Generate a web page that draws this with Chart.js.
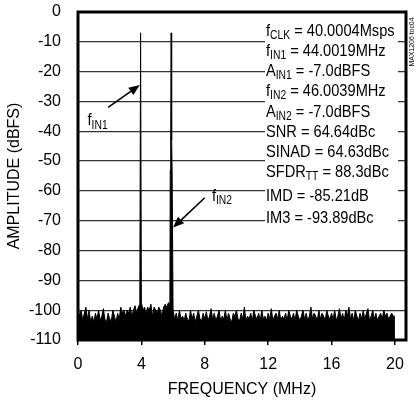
<!DOCTYPE html>
<html>
<head>
<meta charset="utf-8">
<script src="https://cdn.jsdelivr.net/npm/chart.js@4.4.1/dist/chart.umd.min.js"></script>
<style>
  html, body { margin: 0; padding: 0; background: #fff; }
  #wrap { width: 418px; height: 403px; position: relative; }
</style>
</head>
<body>
<div id="wrap"><canvas id="fft"></canvas></div>
<script>
  const xTickValues = [0, 4, 8, 12, 16, 20];
  const yTickValues = [0, -10, -20, -30, -40, -50, -60, -70, -80, -90, -100, -110];

  // noise floor, one value every 0.1 MHz from 0 to 20 MHz (dBFS)
  const noiseStepMHz = 0.1;
  const noiseDbfs = [
    -99, -102, -100, -103.5, -101, -99, -103, -100, -104, -102,
    -104, -101, -103, -100, -103.5, -102, -99.5, -103, -104, -101,
    -103, -103.5, -100, -102, -104, -101, -103, -99, -101, -100,
    -102, -100, -101, -99, -102, -100, -98.5, -101, -99, -98,
    -97.5, -100, -99, -101, -99, -100, -98, -102, -99, -100,
    -101, -99, -100, -102, -99, -98, -99, -97.5, -98, -99,
    -100, -103, -101, -103.5, -100, -103, -102, -103.5, -101, -103,
    -103.5, -100, -103, -101, -104, -102, -100, -103, -103.5, -101,
    -103, -100.5, -103.5, -102, -99.5, -103, -101, -103.5, -102, -100,
    -103.5, -102, -103, -100, -103.5, -101, -103, -104, -101, -102,
    -100, -103, -103.5, -101, -103, -99, -103.5, -102, -103, -101,
    -103.5, -100, -102, -103, -101, -103.5, -100, -103, -102, -103.5,
    -101, -103, -99.5, -103.5, -102, -101, -103, -100, -103.5, -102,
    -103, -101, -103.5, -100, -102, -103, -101, -103.5, -100, -102,
    -103.5, -102, -100, -103, -101, -103.5, -102, -99, -103, -101,
    -102, -103.5, -100, -103, -101, -102, -103.5, -100, -102, -103,
    -101, -103, -100, -103.5, -102, -99.5, -103, -101, -103.5, -100,
    -102, -99, -103, -101, -103.5, -100, -102, -103.5, -101, -103,
    -100, -103, -101, -99.5, -103.5, -102, -100, -103, -101, -103.5,
    -102, -101, -103, -100, -102, -101, -103, -102, -101, -102,
    -102
  ];

  const toneFreqMHz = [3.95, 5.88];
  const toneDbfs = [-7, -7];
  const tone2SkirtMHz = [5.82, 5.85, 5.91, 5.94];
  const tone2SkirtDbfs = [-53, -43, -43, -53];

  const infoLines = [
    [['f', 0], ['CLK', 1], [' = 40.0004Msps', 0]],
    [['f', 0], ['IN1', 1], [' = 44.0019MHz', 0]],
    [['A', 0], ['IN1', 1], [' = -7.0dBFS', 0]],
    [['f', 0], ['IN2', 1], [' = 46.0039MHz', 0]],
    [['A', 0], ['IN2', 1], [' = -7.0dBFS', 0]],
    [['SNR = 64.64dBc', 0]],
    [['SINAD = 64.63dBc', 0]],
    [['SFDR', 0], ['TT', 1], [' = 88.3dBc', 0]],
    [['IMD = -85.21dB', 0]],
    [['IM3 = -93.89dBc', 0]]
  ];
  const infoRowY = [31, 51, 71, 91, 112, 132, 152, 172, 196, 218];

  const FONT = 'Liberation Sans, Arial, sans-serif';
  const NARROW = 0.86;

  // build the spectrum points
  const skirtLo = tone2SkirtMHz[0], skirtHi = tone2SkirtMHz[tone2SkirtMHz.length - 1];
  let pts = [];
  noiseDbfs.forEach((v, i) => {
    const f = +(i * noiseStepMHz).toFixed(2);
    if (f >= skirtLo && f <= skirtHi) return;
    pts.push({ x: f, y: v });
  });
  toneFreqMHz.forEach((f, i) => pts.push({ x: f, y: toneDbfs[i] }));
  tone2SkirtMHz.forEach((f, i) => pts.push({ x: f, y: tone2SkirtDbfs[i] }));
  pts.sort((a, b) => a.x - b.x);

  // text with subscripts, squeezed sideways to look like a condensed face
  function drawRich(ctx, x, y, parts, size) {
    ctx.save();
    ctx.translate(x, y);
    ctx.scale(NARROW, 1);
    ctx.textBaseline = 'middle';
    ctx.textAlign = 'left';
    let cx = 0;
    parts.forEach(([txt, sub]) => {
      ctx.font = (sub ? Math.round(size * 0.72) : size) + 'px ' + FONT;
      ctx.fillText(txt, cx, sub ? size * 0.3 : 0);
      cx += ctx.measureText(txt).width;
    });
    ctx.restore();
  }

  function arrow(ctx, x1, y1, x2, y2) {
    const a = Math.atan2(y2 - y1, x2 - x1);
    const len = 11, w = 4.5;
    const bx = x2 - len * Math.cos(a), by = y2 - len * Math.sin(a);
    ctx.beginPath();
    ctx.moveTo(x1, y1);
    ctx.lineTo(bx, by);
    ctx.lineWidth = 1.6;
    ctx.stroke();
    ctx.beginPath();
    ctx.moveTo(x2, y2);
    ctx.lineTo(bx + w * Math.sin(a), by - w * Math.cos(a));
    ctx.lineTo(bx - w * Math.sin(a), by + w * Math.cos(a));
    ctx.closePath();
    ctx.fill();
  }

  const decor = {
    id: 'decor',
    beforeDatasetsDraw(chart) {
      const { ctx } = chart;
      ctx.save();
      ctx.fillStyle = '#fff';
      ctx.fillRect(265, 15, 133, 213);
      ctx.restore();
    },
    afterDraw(chart) {
      const { ctx, chartArea: ca, scales } = chart;
      const sx = scales.x, sy = scales.y;
      ctx.save();
      ctx.strokeStyle = '#000';
      ctx.fillStyle = '#000';
      ctx.lineWidth = 3;
      ctx.strokeRect(ca.left, ca.top, ca.right - ca.left, ca.bottom - ca.top);

      infoLines.forEach((parts, i) => drawRich(ctx, 266, infoRowY[i], parts, 17));

      drawRich(ctx, sx.getPixelForValue(0.6), sy.getPixelForValue(-36.3), [['f', 0], ['IN1', 1]], 17);
      drawRich(ctx, sx.getPixelForValue(8.45), sy.getPixelForValue(-61.7), [['f', 0], ['IN2', 1]], 17);
      arrow(ctx, sx.getPixelForValue(1.9), sy.getPixelForValue(-32), sx.getPixelForValue(3.9), sy.getPixelForValue(-24.5));
      arrow(ctx, sx.getPixelForValue(8.0), sy.getPixelForValue(-62.3), sx.getPixelForValue(6.0), sy.getPixelForValue(-72.3));

      ctx.translate(412, 42);
      ctx.rotate(-Math.PI / 2);
      ctx.scale(NARROW, 1);
      ctx.font = '8px ' + FONT;
      ctx.textAlign = 'center';
      ctx.textBaseline = 'middle';
      ctx.fillText('MAX1206 toc04', 0, 0);
      ctx.restore();
    }
  };

  new Chart(document.getElementById('fft'), {
    type: 'line',
    data: {
      datasets: [{
        data: pts,
        borderColor: '#000',
        backgroundColor: '#000',
        borderWidth: 1,
        pointRadius: 0,
        fill: 'start',
        tension: 0
      }]
    },
    options: {
      responsive: true,
      maintainAspectRatio: false,
      animation: false,
      layout: { padding: { top: 12, right: 12, left: 0, bottom: 0 } },
      plugins: { legend: { display: false }, tooltip: { enabled: false } },
      scales: {
        x: {
          type: 'linear',
          min: 0,
          max: 20.7,
          afterBuildTicks: s => { s.ticks = xTickValues.map(v => ({ value: v })); },
          afterFit: s => { s.height = 63; s.paddingLeft = 0; s.paddingRight = 0; },
          grid: { drawOnChartArea: false, drawTicks: true, tickLength: 5, color: '#000', lineWidth: 1.5 },
          border: { display: false },
          ticks: { color: '#000', font: { family: FONT, size: 16 }, padding: 10, maxRotation: 0 },
          title: { display: true, text: 'FREQUENCY (MHz)', color: '#000', font: { family: FONT, size: 16 }, padding: { top: 0, bottom: 4 } }
        },
        y: {
          min: -110,
          max: 0,
          afterBuildTicks: s => { s.ticks = yTickValues.map(v => ({ value: v })); },
          afterFit: s => { s.width = 78; s.paddingTop = 0; s.paddingBottom = 0; },
          grid: { drawTicks: false, color: '#333', lineWidth: 1.3 },
          border: { display: false },
          ticks: { color: '#000', font: { family: FONT, size: 16 }, padding: 17 },
          title: { display: true, text: 'AMPLITUDE (dBFS)', color: '#000', font: { family: FONT, size: 16 }, padding: { top: 5, bottom: 0 } }
        }
      }
    },
    plugins: [decor]
  });
</script>
</body>
</html>
